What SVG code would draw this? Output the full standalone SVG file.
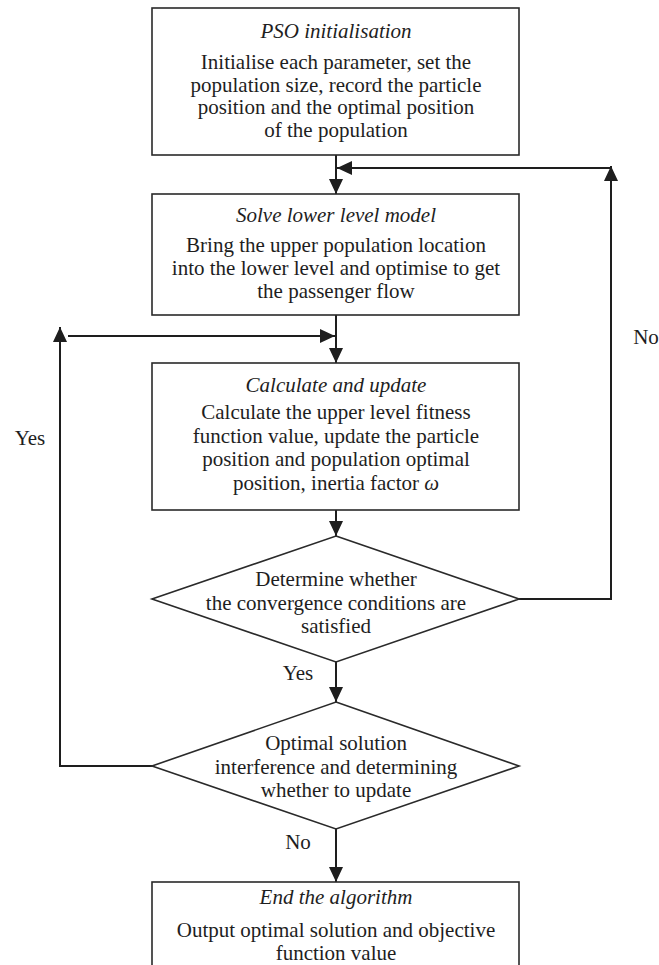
<svg xmlns="http://www.w3.org/2000/svg" width="659" height="965" viewBox="0 0 659 965">
<style>
.box{fill:#fff;stroke:#2a2a2a;stroke-width:1.6}
.con{fill:none;stroke:#1e1e1e;stroke-width:2}
text{font-family:"Liberation Serif","Times New Roman",serif;font-size:21px;fill:#1e1e1e;text-anchor:middle}
.t{font-style:italic}
</style>
<defs>
<marker id="ah" markerUnits="userSpaceOnUse" markerWidth="15" markerHeight="14" refX="15" refY="7" orient="auto">
<path d="M0,0 L15,7 L0,14 z" fill="#1e1e1e"/>
</marker>
</defs>
<rect width="659" height="965" fill="#fff"/>
<g id="connectors">
<path class="con" d="M336,155 V194" marker-end="url(#ah)"/>
<path class="con" d="M519,599 H611 V166" marker-end="url(#ah)"/>
<path class="con" d="M611,168 H337" marker-end="url(#ah)"/>
<path class="con" d="M336,315 V363" marker-end="url(#ah)"/>
<path class="con" d="M152,766 H60 V327" marker-end="url(#ah)"/>
<path class="con" d="M68,336 H335" marker-end="url(#ah)"/>
<path class="con" d="M336,510 V536" marker-end="url(#ah)"/>
<path class="con" d="M336,662 V702" marker-end="url(#ah)"/>
<path class="con" d="M336,829 V882" marker-end="url(#ah)"/>
</g>
<g id="pso-init">
<rect class="box" x="152" y="8" width="367" height="147"/>
<text class="t" x="336" y="38">PSO initialisation</text>
<text x="336" y="69">Initialise each parameter, set the</text>
<text x="336" y="92">population size, record the particle</text>
<text x="336" y="114">position and the optimal position</text>
<text x="336" y="137">of the population</text>
</g>
<g id="solve-lower">
<rect class="box" x="152" y="194" width="367" height="121"/>
<text class="t" x="336" y="222">Solve lower level model</text>
<text x="336" y="252">Bring the upper population location</text>
<text x="336" y="275">into the lower level and optimise to get</text>
<text x="336" y="298">the passenger flow</text>
</g>
<g id="calc-update">
<rect class="box" x="152" y="363" width="367" height="147"/>
<text class="t" x="336" y="392">Calculate and update</text>
<text x="336" y="419">Calculate the upper level fitness</text>
<text x="336" y="443">function value, update the particle</text>
<text x="336" y="466">position and population optimal</text>
<text x="336" y="490">position, inertia factor <tspan font-style="italic">ω</tspan></text>
</g>
<g id="convergence">
<polygon class="box" points="336,536 519,599 336,662 152,599"/>
<text x="336" y="586">Determine whether</text>
<text x="336" y="610">the convergence conditions are</text>
<text x="336" y="633">satisfied</text>
</g>
<g id="update-check">
<polygon class="box" points="336,702 519,766 336,829 152,766"/>
<text x="336" y="750">Optimal solution</text>
<text x="336" y="774">interference and determining</text>
<text x="336" y="797">whether to update</text>
</g>
<g id="end">
<rect class="box" x="152" y="882" width="367" height="100"/>
<text class="t" x="336" y="904">End the algorithm</text>
<text x="336" y="937">Output optimal solution and objective</text>
<text x="336" y="960">function value</text>
</g>
<g id="labels">
<text x="646" y="344">No</text>
<text x="30" y="445">Yes</text>
<text x="298" y="680">Yes</text>
<text x="298" y="849">No</text>
</g>
</svg>
